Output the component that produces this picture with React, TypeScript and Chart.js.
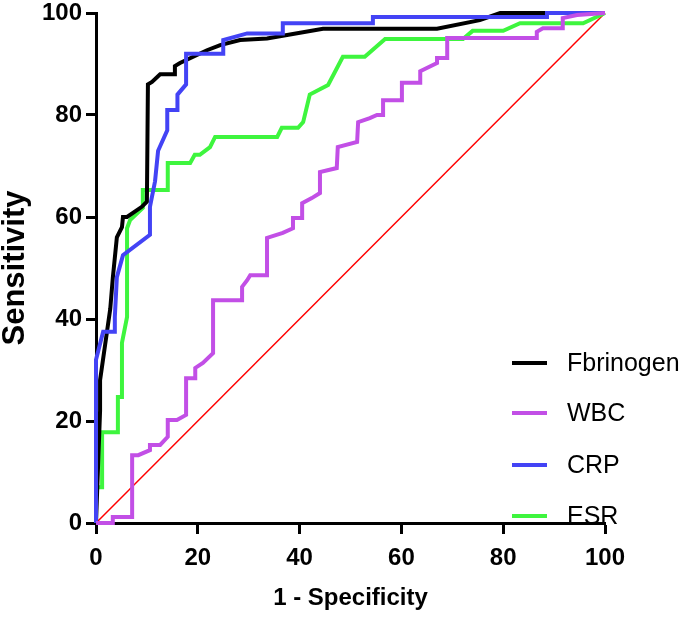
import React, { useEffect, useRef } from "react";
import { Chart, registerables } from "chart.js";
Chart.register(...registerables);

const seriesNames = ["Fbrinogen", "WBC", "CRP", "ESR"];
const seriesColors = ["#000000", "#c24fe6", "#4343f5", "#3ef53e"];

const fibX = [0, 0.8, 0.8, 1.8, 2.8, 3.3, 4.1, 5.1, 5.3, 6.1, 9, 10, 10.2, 11, 12.6, 15.5, 15.5, 16.5, 21.8, 24.4, 28.3, 33.6, 44.6, 67, 75.4, 79.4, 100];
const fibY = [0, 22, 28, 35, 42, 48, 56, 58, 60, 60, 62, 63, 86, 86.5, 88, 88, 89.6, 90.2, 92.7, 93.7, 94.7, 95, 96.9, 96.9, 98.6, 100, 100];

const wbcX = [0, 3.3, 3.3, 7.1, 7.1, 8.3, 10.6, 10.6, 12.6, 14.1, 14.1, 15.9, 17.7, 17.7, 19.5, 19.5, 21, 23, 23, 28.7, 28.7, 29.7, 30.3, 33.6, 33.6, 36.7, 38.7, 38.7, 40.5, 40.5, 42.4, 44, 44, 47.3, 47.5, 51.3, 51.5, 53.8, 55.2, 56.4, 56.4, 60.1, 60.1, 63.7, 63.7, 67, 67, 69, 69, 86.6, 86.6, 87.8, 91.7, 91.7, 94.5, 100];
const wbcY = [0, 0, 1.2, 1.2, 13.3, 13.3, 14.3, 15.3, 15.3, 16.9, 20.2, 20.2, 21.2, 28.4, 28.4, 30.4, 31.4, 33.3, 43.7, 43.7, 46.3, 47.6, 48.6, 48.6, 55.9, 56.9, 57.8, 59.8, 59.8, 62.7, 63.7, 64.7, 68.8, 69.6, 73.7, 74.7, 78.6, 79.4, 80, 80, 82.9, 82.9, 86.3, 86.3, 88.6, 90.2, 91.2, 91.2, 95.1, 95.1, 96.3, 97, 97, 99, 99.6, 100];

const crpX = [0, 0, 1.4, 3.7, 3.7, 4.1, 5.3, 10.6, 10.6, 11.6, 12.2, 14, 14, 16, 16, 17.7, 17.7, 25, 25, 29.7, 36.7, 36.7, 54.4, 54.4, 88.6, 88.6, 100];
const crpY = [0, 32, 37.5, 37.5, 40.4, 48.2, 52.5, 56.5, 62, 67, 73, 77, 81, 81, 84, 86, 92, 92, 94.7, 96, 96, 98, 98, 99.2, 99.2, 100, 100];

const esrX = [0, 0, 1.2, 1.2, 4.3, 4.3, 5.1, 5.1, 6.1, 6.1, 6.7, 9.2, 9.2, 14.1, 14.1, 18.5, 19.4, 20.4, 22.4, 23.4, 35.6, 36.5, 39.7, 40.7, 42, 45.6, 48.5, 52.8, 56.8, 72.1, 74, 80, 83.3, 95.7, 100];
const esrY = [0, 7, 7, 17.8, 17.8, 24.7, 24.7, 35.3, 40.4, 57.8, 59.4, 61.8, 65.3, 65.3, 70.6, 70.6, 72.2, 72.2, 73.7, 75.7, 75.7, 77.5, 77.5, 78.6, 84, 85.9, 91.4, 91.4, 94.9, 94.9, 96.5, 96.5, 98, 98, 100];

const refX = [0, 100];
const refY = [0, 100];

const xTicks = [0, 20, 40, 60, 80, 100];
const yTicks = [0, 20, 40, 60, 80, 100];

const pts = (xs: number[], ys: number[]) => xs.map((x, i) => ({ x, y: ys[i] }));

const fam = "'Liberation Sans', Arial, sans-serif";

const legendPlugin = {
  id: "customLegend",
  afterDraw(chart: any) {
    const { ctx, chartArea } = chart;
    ctx.save();
    const lineX0 = chartArea.right - 93;
    const lineX1 = chartArea.right - 58;
    const textX = chartArea.right - 38;
    const ys = [chartArea.bottom - 160, chartArea.bottom - 110, chartArea.bottom - 58, chartArea.bottom - 7];
    ctx.font = "25px " + fam;
    ctx.textBaseline = "middle";
    ctx.textAlign = "left";
    seriesNames.forEach((name, i) => {
      ctx.strokeStyle = seriesColors[i];
      ctx.lineWidth = 4;
      ctx.beginPath();
      ctx.moveTo(lineX0, ys[i]);
      ctx.lineTo(lineX1, ys[i]);
      ctx.stroke();
      ctx.fillStyle = "#000";
      ctx.fillText(name, textX, ys[i] + 1);
    });
    ctx.restore();
  },
};

export default function App() {
  const ref = useRef<HTMLCanvasElement>(null);
  useEffect(() => {
    if (!ref.current) return;
    const mk = (label: string, xs: number[], ys: number[], color: string, width: number, order: number) => ({
      label,
      data: pts(xs, ys),
      borderColor: color,
      backgroundColor: color,
      borderWidth: width,
      pointRadius: 0,
      tension: 0,
      clip: false as any,
      order,
    });
    const chart = new Chart(ref.current, {
      type: "line",
      data: {
        datasets: [
          mk("ref", refX, refY, "#ff0000", 1.5, 5),
          mk("ESR", esrX, esrY, seriesColors[3], 4, 4),
          mk("Fbrinogen", fibX, fibY, seriesColors[0], 4, 3),
          mk("CRP", crpX, crpY, seriesColors[2], 4, 2),
          mk("WBC", wbcX, wbcY, seriesColors[1], 4, 1),
        ],
      },
      options: {
        animation: false,
        responsive: false,
        layout: { padding: { top: 13, right: 80, left: 0, bottom: 0 } },
        plugins: { legend: { display: false }, tooltip: { enabled: false } },
        scales: {
          x: {
            type: "linear",
            min: 0,
            max: 100,
            afterFit: (s: any) => { s.height = 94; s.paddingLeft = 0; s.paddingRight = 0; },
            afterBuildTicks: (s: any) => { s.ticks = xTicks.map((v) => ({ value: v })); },
            border: { display: true, color: "#000", width: 3 },
            grid: { display: true, drawOnChartArea: false, drawTicks: true, tickLength: 11, tickWidth: 3, tickColor: "#000" },
            ticks: { color: "#000", padding: 10, maxRotation: 0, font: { family: fam, size: 24, weight: "bold" } },
            title: { display: true, text: "1 - Specificity", color: "#000", padding: { top: 0, bottom: 7 }, font: { family: fam, size: 24, weight: "bold", lineHeight: 1 } },
          },
          y: {
            type: "linear",
            min: 0,
            max: 100,
            afterFit: (s: any) => { s.width = 96; s.paddingTop = 0; s.paddingBottom = 0; },
            afterBuildTicks: (s: any) => { s.ticks = yTicks.map((v) => ({ value: v })); },
            border: { display: true, color: "#000", width: 3 },
            grid: { display: true, drawOnChartArea: false, drawTicks: true, tickLength: 10, tickWidth: 3, tickColor: "#000" },
            ticks: { color: "#000", padding: 4, font: { family: fam, size: 24, weight: "bold" } },
            title: { display: true, text: "Sensitivity", color: "#000", padding: 0, font: { family: fam, size: 31, weight: "bold", lineHeight: 1 } },
          },
        },
      } as any,
      plugins: [legendPlugin],
    });
    return () => chart.destroy();
  }, []);
  return (
    <div style={{ position: "absolute", left: 0, top: 0, width: 685, height: 617 }}>
      <canvas ref={ref} width={685} height={617} style={{ display: "block" }} />
    </div>
  );
}
